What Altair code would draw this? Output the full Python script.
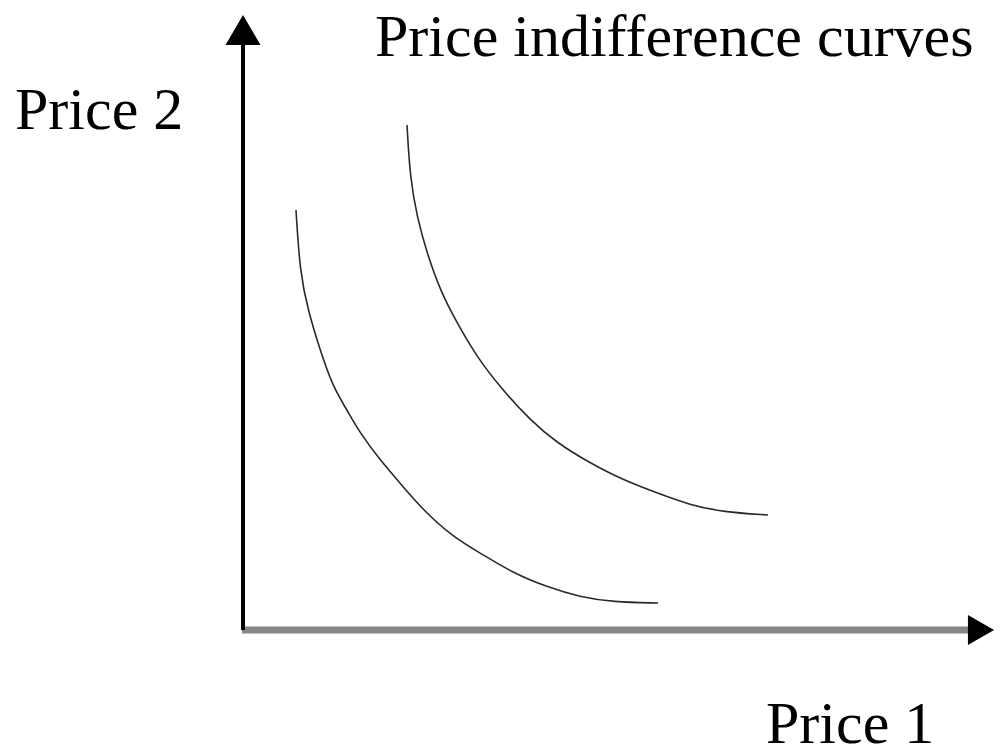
import altair as alt
import pandas as pd

# Indifference curve readings (Price 1, Price 2), origin at the axes corner
low_p1 = [0.53, 0.57, 0.65, 0.77, 0.90, 1.04, 1.17, 1.37, 1.57, 1.80, 2.10, 2.37, 2.70, 3.04, 3.37, 3.70, 4.15]
low_p2 = [4.20, 3.57, 3.20, 2.80, 2.43, 2.20, 1.97, 1.70, 1.47, 1.20, 0.93, 0.77, 0.57, 0.43, 0.33, 0.28, 0.27]
high_p1 = [1.64, 1.67, 1.74, 1.84, 1.97, 2.14, 2.34, 2.57, 2.87, 3.14, 3.47, 3.80, 4.14, 4.47, 4.80, 5.25]
high_p2 = [5.05, 4.53, 4.13, 3.77, 3.40, 3.07, 2.73, 2.43, 2.10, 1.87, 1.67, 1.50, 1.37, 1.25, 1.18, 1.15]

label_text = ["Price indifference curves", "Price 2", "Price 1"]
label_x = [1.32, -2.28, 5.23]
label_y = [5.74, 5.01, -1.13]

W, H = 987, 737
X_MIN = -2.35
Y_MAX = 6.22
xs = alt.Scale(domain=[X_MIN, X_MIN + W / 100], nice=False, zero=False)
ys = alt.Scale(domain=[Y_MAX - H / 100, Y_MAX], nice=False, zero=False)

curves = pd.DataFrame({
    "p1": low_p1 + high_p1,
    "p2": low_p2 + high_p2,
    "curve": ["low"] * len(low_p1) + ["high"] * len(high_p1),
    "order": list(range(len(low_p1))) + list(range(len(high_p1))),
})

X = lambda f: alt.X(f, type="quantitative", scale=xs, axis=None)
Y = lambda f: alt.Y(f, type="quantitative", scale=ys, axis=None)

curve_layer = alt.Chart(curves).mark_line(
    color="#2a2a2a", strokeWidth=1.6, interpolate="basis", clip=False
).encode(x=X("p1"), y=Y("p2"), detail="curve:N", order="order:Q")

vaxis = alt.Chart(pd.DataFrame({"x": [0.0], "y": [0.0], "y2": [5.85]})).mark_rule(
    color="#000000", strokeWidth=4
).encode(x=X("x"), y=Y("y"), y2="y2")

haxis = alt.Chart(pd.DataFrame({"x": [-0.01], "x2": [7.27], "y": [-0.0]})).mark_rule(
    color="#878787", strokeWidth=7
).encode(x=X("x"), x2="x2", y=Y("y"))

up_arrow = alt.Chart(pd.DataFrame({"x": [0.0], "y": [6.0]})).mark_point(
    shape="M-1,0.86L0,-0.86L1,0.86Z", size=1225, filled=True, color="#000000", opacity=1, clip=False
).encode(x=X("x"), y=Y("y"))

right_arrow = alt.Chart(pd.DataFrame({"x": [7.38], "y": [-0.0]})).mark_point(
    shape="M-0.87,-1L0.87,0L-0.87,1Z", size=900, filled=True, color="#000000", opacity=1, clip=False
).encode(x=X("x"), y=Y("y"))

labels = alt.Chart(pd.DataFrame({"t": label_text, "x": label_x, "y": label_y})).mark_text(
    font="Liberation Serif", fontSize=60, align="left", baseline="alphabetic", color="#000000", clip=False
).encode(x=X("x"), y=Y("y"), text="t:N")

chart = alt.layer(haxis, vaxis, up_arrow, right_arrow, curve_layer, labels).properties(
    width=W, height=H, padding=0, autosize=alt.AutoSizeParams(type="none")
).configure_view(stroke=None)

chart.save("out.html", embed_options={"renderer": "svg", "actions": False})
